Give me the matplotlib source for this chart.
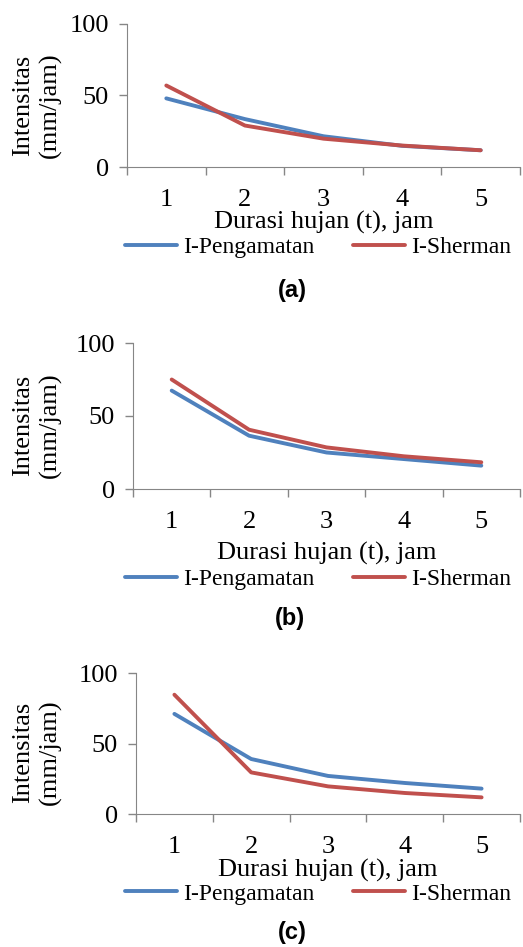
import matplotlib.pyplot as plt

W, H = 523, 947

durasi = [1, 2, 3, 4, 5]

# panel (a)
peng_a = [48, 33.5, 21.5, 14.8, 11.7]
sher_a = [57, 29, 19.8, 15, 11.7]
# panel (b)
peng_b = [67.4, 36.5, 25, 20.5, 16]
sher_b = [75, 40.6, 28.5, 22.4, 18.3]
# panel (c)
peng_c = [71, 39, 27, 22, 18]
sher_c = [84.6, 29.5, 19.6, 14.9, 11.8]

panels = [
    ("(a)", peng_a, sher_a, (127, 520, 24, 167), 222, 247, 290, 105, 292),
    ("(b)", peng_b, sher_b, (133, 520, 343, 489), 553, 579, 618, 425, 290),
    ("(c)", peng_c, sher_c, (136, 520, 673, 814), 870, 894, 932, 752, 292),
]

blue = "#4F81BD"
red = "#C0504D"
grey = "#868686"
serif = "Liberation Serif"

fig = plt.figure(figsize=(W / 100, H / 100), dpi=100)

for cap, peng, sher, box, xl_y, leg_y, cap_y, yl_y, cap_x in panels:
    l, r, t, b = box
    ax = fig.add_axes([l / W, 1 - b / H, (r - l) / W, (b - t) / H])
    ax.plot(durasi, peng, color=blue, lw=2.8, label="I-Pengamatan", solid_capstyle="round")
    ax.plot(durasi, sher, color=red, lw=2.8, label="I-Sherman", solid_capstyle="round")
    ax.set_xlim(0.5, 5.5)
    ax.set_ylim(0, 100)
    ax.set_yticks([0, 50, 100])
    ax.set_xticks([0.5, 1.5, 2.5, 3.5, 4.5, 5.5])
    ax.set_xticklabels([])
    ax.set_xticks(durasi, minor=True)
    ax.set_xticklabels([str(d) for d in durasi], minor=True)
    ax.tick_params(axis="x", which="major", length=6, color=grey, width=1)
    ax.tick_params(axis="x", which="minor", length=0, pad=16, labelsize=19)
    ax.tick_params(axis="y", length=6, color=grey, width=1, pad=7, labelsize=19)
    for lab in ax.get_xticklabels(minor=True) + ax.get_yticklabels():
        lab.set_fontfamily(serif)
    for s in ["top", "right"]:
        ax.spines[s].set_visible(False)
    for s in ["left", "bottom"]:
        ax.spines[s].set_color(grey)
    cx = (l + r) / 2 / W
    fig.text(cx, 1 - xl_y / H, "Durasi hujan (t), jam", ha="center", va="center",
             fontsize=19, family=serif)
    fig.text(37 / W, 1 - yl_y / H, "Intensitas\n(mm/jam)", ha="center", va="center",
             rotation=90, fontsize=19, family=serif, linespacing=1.25)
    ax.legend(loc="center", bbox_to_anchor=(318 / W, 1 - leg_y / H),
              bbox_transform=fig.transFigure, ncol=2, frameon=False,
              prop={"family": serif, "size": 17}, handlelength=2.2,
              handletextpad=0.25, columnspacing=1.65, borderaxespad=0,
              borderpad=0)
    fig.text(cap_x / W, 1 - cap_y / H, cap, ha="center", va="center",
             fontsize=17, fontweight="bold", family="Liberation Sans")

fig.savefig("out.png", dpi=100)
